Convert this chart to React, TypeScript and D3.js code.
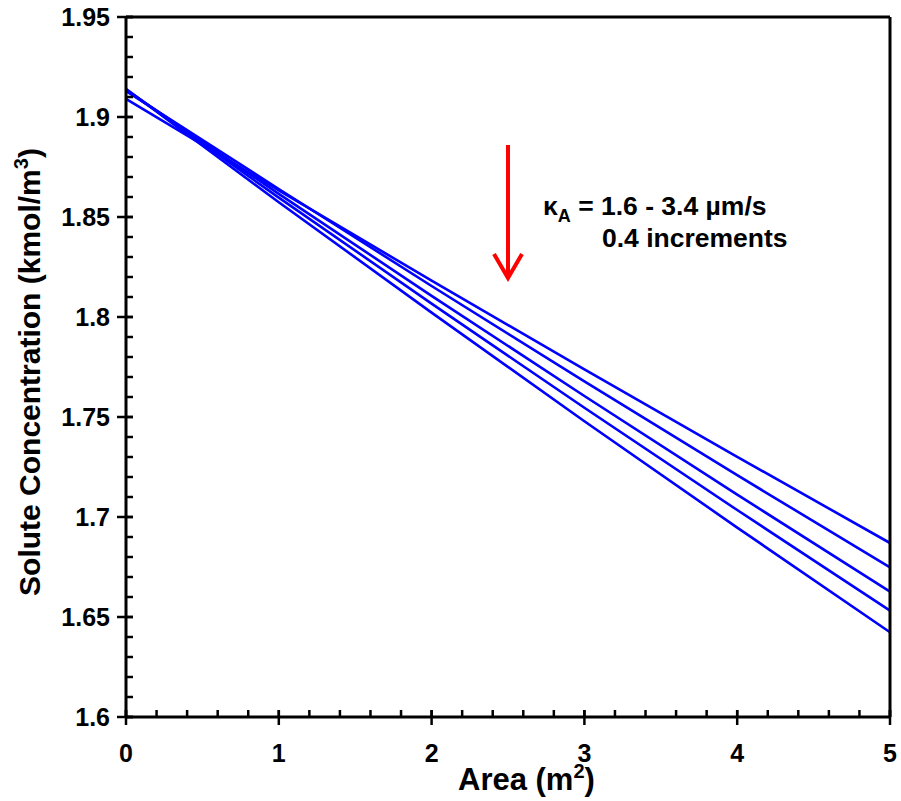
import React from "react";
import * as d3 from "d3";

const areaPoints = [0, 1, 2, 3, 4, 5];
const kappaValues = [1.6, 2.0, 2.4, 2.8, 3.2];
const seriesA = [1.909, 1.8633, 1.8182, 1.7738, 1.7301, 1.687];
const seriesB = [1.913, 1.8640, 1.8155, 1.7678, 1.7209, 1.6748];
const seriesC = [1.9135, 1.8616, 1.8106, 1.7605, 1.7112, 1.6627];
const seriesD = [1.9138, 1.8597, 1.8067, 1.7546, 1.7035, 1.6532];
const seriesE = [1.914, 1.8574, 1.8022, 1.7479, 1.6947, 1.6424];
const allSeries = [seriesA, seriesB, seriesC, seriesD, seriesE];
const xTicks = [0, 1, 2, 3, 4, 5];
const yTicks = [1.6, 1.65, 1.7, 1.75, 1.8, 1.85, 1.9, 1.95];

const W = 901;
const H = 801;
const L = 126, R = 890, T = 17, B = 717;
const FONT = "'Liberation Sans', Arial, sans-serif";

export default function App() {
  const x = d3.scaleLinear().domain([0, 5]).range([L, R]);
  const y = d3.scaleLinear().domain([1.6, 1.95]).range([B, T]);
  const line = d3
    .line<number>()
    .x((_, i) => x(areaPoints[i]))
    .y((d) => y(d))
    .curve(d3.curveMonotoneX);

  const xMinor = d3.range(0, 5.0001, 0.2).map((v) => +v.toFixed(2));
  const yMinor = d3.range(1.6, 1.95001, 0.01).map((v) => +v.toFixed(3));

  const arrowX = x(2.5);
  const arrowTop = y(1.886);
  const arrowBot = y(1.8195);

  return (
    <svg
      width={W}
      height={H}
      style={{ position: "absolute", left: 0, top: 0, background: "#fff" }}
      fontFamily={FONT}
      fontWeight="bold"
    >
      <rect x={0} y={0} width={W} height={H} fill="#fff" />
      {/* series */}
      {allSeries.map((s, i) => (
        <path
          key={kappaValues[i]}
          d={line(s) || ""}
          fill="none"
          stroke="#0000FF"
          strokeWidth={2.6}
        />
      ))}
      {/* frame */}
      <line x1={L} x2={R} y1={T} y2={T} stroke="#000" strokeWidth={3} />
      <line x1={R} x2={R} y1={T} y2={B} stroke="#000" strokeWidth={3} />
      <line x1={L} x2={R} y1={B} y2={B} stroke="#000" strokeWidth={3} />
      <line x1={L} x2={L} y1={T} y2={B} stroke="#000" strokeWidth={3} />
      {/* x minor ticks */}
      {xMinor.map((v) => (
        <line key={"xm" + v} x1={x(v)} x2={x(v)} y1={B} y2={B - 7} stroke="#000" strokeWidth={2.5} />
      ))}
      {xTicks.map((v) => (
        <line key={"xM" + v} x1={x(v)} x2={x(v)} y1={B - 7} y2={B + 8} stroke="#000" strokeWidth={2.5} />
      ))}
      {yMinor.map((v) => (
        <line key={"ym" + v} x1={L} x2={L + 7} y1={y(v)} y2={y(v)} stroke="#000" strokeWidth={2.5} />
      ))}
      {yTicks.map((v) => (
        <line key={"yM" + v} x1={L - 9} x2={L + 7} y1={y(v)} y2={y(v)} stroke="#000" strokeWidth={2.5} />
      ))}
      {/* tick labels */}
      {xTicks.map((v) => (
        <text key={"xl" + v} x={x(v)} y={B + 45} textAnchor="middle" fontSize={25}>
          {v}
        </text>
      ))}
      {yTicks.map((v) => (
        <text key={"yl" + v} x={L - 16} y={y(v) + 9} textAnchor="end" fontSize={25}>
          {v}
        </text>
      ))}
      {/* axis titles */}
      <text x={458} y={790} textAnchor="start" fontSize={31}>
        Area (m<tspan fontSize={20} dy={-12}>2</tspan>
        <tspan dy={12}>)</tspan>
      </text>
      <text
        transform={`translate(40, ${(T + B) / 2 + 5}) rotate(-90)`}
        textAnchor="middle"
        fontSize={30}
      >
        Solute Concentration (kmol/m<tspan fontSize={20} dy={-12}>3</tspan>
        <tspan dy={12}>)</tspan>
      </text>
      {/* annotation arrow */}
      <line x1={arrowX} x2={arrowX} y1={arrowTop} y2={arrowBot - 2} stroke="#FF0000" strokeWidth={4} />
      <polyline
        points={`${arrowX - 14},${arrowBot - 24} ${arrowX},${arrowBot} ${arrowX + 14},${arrowBot - 24}`}
        fill="none"
        stroke="#FF0000"
        strokeWidth={4}
      />
      <text x={543} y={215} fontSize={26.5}>
        κ<tspan fontSize={18} dy={7}>A</tspan>
        <tspan dy={-7}> = 1.6 - 3.4 µm/s</tspan>
      </text>
      <text x={602} y={247} fontSize={26.5}>
        0.4 increments
      </text>
    </svg>
  );
}
